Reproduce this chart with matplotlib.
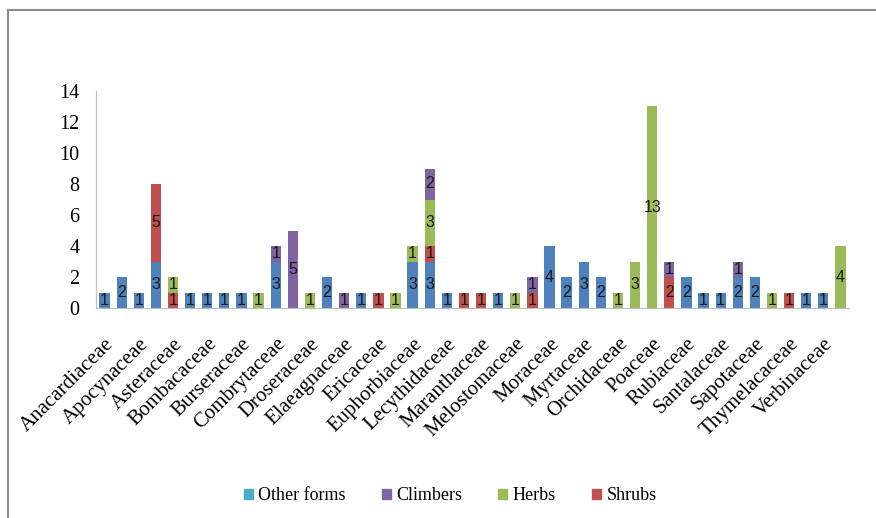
import matplotlib
matplotlib.use("Agg")
import matplotlib.pyplot as plt
from matplotlib.patches import Patch
from matplotlib.lines import Line2D
import numpy as np

# 44 families, only every second one is labelled on the axis
tick_labels = ["Anacardiaceae", "Apocynaceae", "Asteraceae", "Bombacaceae", "Burseraceae",
               "Combrytaceae", "Droseraceae", "Elaeagnaceae", "Ericaceae", "Euphorbiaceae",
               "Lecythidaceae", "Maranthaceae", "Melostomaceae", "Moraceae", "Myrtaceae",
               "Orchidaceae", "Poaceae", "Rubiaceae", "Santalaceae", "Sapotaceae",
               "Thymelacaceae", "Verbinaceae"]

other_forms = [1, 2, 1, 3, 0, 1, 1, 1, 1, 0, 3, 0, 0, 2, 0, 1, 0, 0, 3, 3, 1, 0,
               0, 1, 0, 0, 4, 2, 3, 2, 0, 0, 0, 0, 2, 1, 1, 2, 2, 0, 0, 1, 1, 0]
shrubs      = [0, 0, 0, 5, 1, 0, 0, 0, 0, 0, 0, 0, 0, 0, 0, 0, 1, 0, 0, 1, 0, 1,
               1, 0, 0, 1, 0, 0, 0, 0, 0, 0, 0, 2, 0, 0, 0, 0, 0, 0, 1, 0, 0, 0]
herbs       = [0, 0, 0, 0, 1, 0, 0, 0, 0, 1, 0, 0, 1, 0, 0, 0, 0, 1, 1, 3, 0, 0,
               0, 0, 1, 0, 0, 0, 0, 0, 1, 3, 13, 0, 0, 0, 0, 0, 0, 1, 0, 0, 0, 4]
climbers    = [0, 0, 0, 0, 0, 0, 0, 0, 0, 0, 1, 5, 0, 0, 1, 0, 0, 0, 0, 2, 0, 0,
               0, 0, 0, 1, 0, 0, 0, 0, 0, 0, 0, 1, 0, 0, 0, 1, 0, 0, 0, 0, 0, 0]

series = [("Other forms", other_forms, "#4F81BD"),
          ("Shrubs", shrubs, "#C0504D"),
          ("Herbs", herbs, "#9BBB59"),
          ("Climbers", climbers, "#8064A2")]

fig = plt.figure(figsize=(8.76, 5.18), dpi=100)
ax = fig.add_axes([96 / 876, 1 - 308 / 518, 753 / 876, 217 / 518])

x = np.arange(len(other_forms))
bottom = np.zeros(len(x))
for name, vals, color in series:
    vals = np.array(vals, dtype=float)
    ax.bar(x, vals, 0.6, bottom=bottom, color=color, edgecolor="none")
    for xi, v, b in zip(x, vals, bottom):
        if v > 0:
            ax.text(xi, b + v / 2, f"{int(v)}", ha="center", va="center",
                    fontsize=11.5, family="Liberation Sans", color="#1a1a1a")
    bottom += vals

ax.set_xlim(-0.5, len(x) - 0.5)
ax.set_ylim(0, 14)
ax.set_yticks(range(0, 15, 2))
ax.set_xticks(x[::2])
ax.set_xticklabels(tick_labels, rotation=45, ha="right", rotation_mode="anchor",
                   family="Liberation Serif", fontsize=15)
for lab in ax.get_yticklabels():
    lab.set_family("Liberation Serif")
    lab.set_fontsize(14.5)
ax.tick_params(length=0)
ax.tick_params(axis="y", pad=12)
ax.tick_params(axis="x", pad=19)
for s in ["top", "right"]:
    ax.spines[s].set_visible(False)
for s in ["left", "bottom"]:
    ax.spines[s].set_color("#BFBFBF")

handles = [Patch(color="#4BACC6"), Patch(color="#8064A2"),
           Patch(color="#9BBB59"), Patch(color="#C0504D")]
fig.legend(handles, ["Other forms", "Climbers", "Herbs", "Shrubs"],
           loc="center", bbox_to_anchor=(450 / 876, 1 - 496 / 518), ncol=4,
           frameon=False, handlelength=0.5, handleheight=0.5, handletextpad=0.3,
           columnspacing=2.0, prop={"family": "Liberation Serif", "size": 13})

# outer chart frame (left and top edges)
fig.add_artist(Line2D([8 / 876, 8 / 876], [0, 1 - 10 / 518], transform=fig.transFigure,
                      color="#8c8c8c", lw=1.5))
fig.add_artist(Line2D([8 / 876, 1], [1 - 10 / 518, 1 - 10 / 518], transform=fig.transFigure,
                      color="#8c8c8c", lw=1.5))

fig.savefig("out.png", dpi=100)
